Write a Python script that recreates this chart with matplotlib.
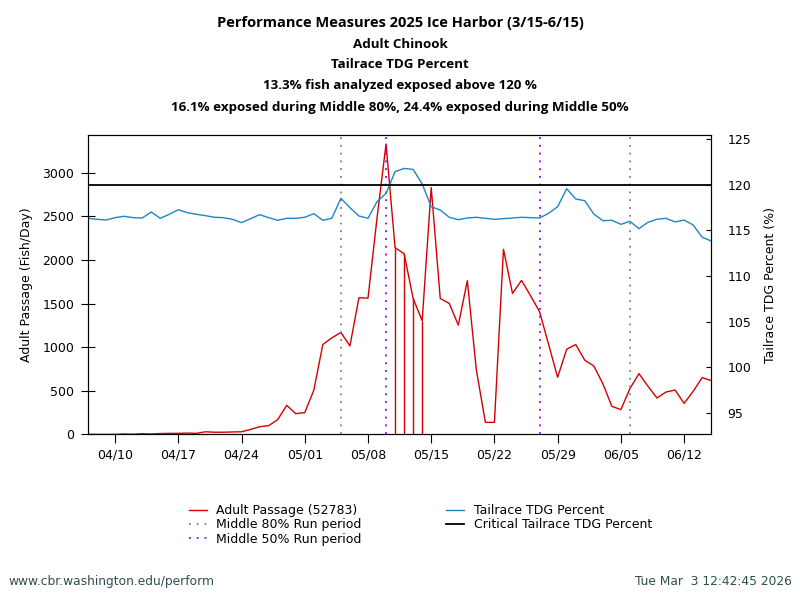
import numpy as np
import matplotlib
matplotlib.use('Agg')
import matplotlib.pyplot as plt
import matplotlib.dates as mdates

# daily values, 04/07 .. 06/15
start = np.datetime64('2025-04-07')
passage = [0, 0, 0, 0, 5, 2, 8, 5, 10, 12, 12, 15, 12, 30, 25, 25, 28, 30,
           57, 88, 100, 169, 333, 238, 250, 506, 1031, 1107, 1169, 1015,
           1567, 1563, 2480, 3330, 2141, 2072, 1559, 1303, 2831, 1559,
           1502, 1253, 1762, 736, 138, 138, 2123, 1617, 1766, 1590, 1406,
           1030, 655, 977, 1031, 851, 785, 582, 322, 284, 525, 697, 552,
           417, 486, 509, 356, 494, 651, 617]
tdg = [116.33, 116.22, 116.14, 116.40, 116.55, 116.40, 116.36, 117.02, 116.33,
       116.77, 117.27, 116.95, 116.77, 116.62, 116.44, 116.40, 116.22, 115.85,
       116.29, 116.73, 116.40, 116.11, 116.33, 116.33, 116.44, 116.84, 116.11,
       116.33, 118.53, 117.50, 116.58, 116.33, 118.15, 119.07, 121.45, 121.80,
       121.70, 120.10, 117.60, 117.24, 116.44, 116.18, 116.36, 116.44, 116.33,
       116.22, 116.29, 116.36, 116.44, 116.40, 116.36, 116.88, 117.60, 119.58,
       118.45, 118.26, 116.80, 116.07, 116.11, 115.67, 116.00, 115.19, 115.89,
       116.22, 116.33, 115.93, 116.14, 115.60, 114.25, 113.84]
drop_days = ['2025-05-11', '2025-05-12', '2025-05-13', '2025-05-14']
run80 = ['2025-05-05', '2025-06-06']
run50 = ['2025-05-10', '2025-05-27']
critical = 120
total = 52783

title_lines = ['Performance Measures 2025 Ice Harbor (3/15-6/15)',
               'Adult Chinook',
               'Tailrace TDG Percent',
               '13.3% fish analyzed exposed above 120 %',
               '16.1% exposed during Middle 80%, 24.4% exposed during Middle 50%']

dates = start + np.arange(len(passage))
dates = dates.astype('datetime64[D]').astype(object)
drop = np.array(drop_days, dtype='datetime64[D]')
drop_vals = [passage[int((d - start).astype(int))] for d in drop]

red = '#d40000'
blue = '#1f86c4'
purple = '#9a00e6'
dots = (0, (1, 3.3))

fig = plt.figure(figsize=(8, 6), dpi=100)
ax = fig.add_axes([0.110, 0.276, 0.779, 0.4985])
ax2 = ax.twinx()

l1, = ax.plot(dates, passage, color=red, lw=1)
ax.vlines(drop.astype(object), 0, drop_vals, color=red, lw=1)
for d in run80:
    ax.axvline(np.datetime64(d).astype(object), color='grey', ls=dots, lw=1.3)
for d in run50:
    ax.axvline(np.datetime64(d).astype(object), color=purple, ls=dots, lw=1.3)
l2, = ax2.plot(dates, tdg, color=blue, lw=1)
l3 = ax2.axhline(critical, color='black', lw=1.3)

ax.set_ylim(0, max(passage) * 1.03)
ax.set_yticks(range(0, 3001, 500))
ax2.set_ylim(92.61, 125.44)
ax2.set_yticks(range(95, 126, 5))
ax.set_xlim(np.datetime64('2025-04-07').astype(object), np.datetime64('2025-06-15').astype(object))
ax.set_xticks(np.arange(np.datetime64('2025-04-10'), np.datetime64('2025-06-15'), 7).astype(object))
ax.xaxis.set_major_formatter(mdates.DateFormatter('%m/%d'))
ax.tick_params(axis='x', labelsize=9, direction='out', length=6.5)
ax.tick_params(axis='y', labelsize=9, direction='inout', length=10, pad=5)
ax2.tick_params(axis='y', labelsize=9, direction='in', length=3.5, pad=11.5)
ax.set_ylabel('Adult Passage (Fish/Day)', fontsize=9, labelpad=7)
ax2.set_ylabel('Tailrace TDG Percent (%)', fontsize=9, labelpad=9.6)

for i, line in enumerate(title_lines):
    fig.text(0.5, 1 - (23 + 21 * i) / 600, line, ha='center', va='center',
             fontsize=10.55 if i == 0 else 9.6, fontweight='bold', family='Open Sans')

h80, = ax.plot([], [], color='grey', ls=dots, lw=1.3)
h50, = ax.plot([], [], color=purple, ls=dots, lw=1.3)
fig.legend([l1, h80, h50, l2, l3],
           ['Adult Passage (%d)' % total, 'Middle 80% Run period', 'Middle 50% Run period',
            'Tailrace TDG Percent', 'Critical Tailrace TDG Percent'],
           ncol=2, loc='upper left', bbox_to_anchor=(0.2358, 0.16), frameon=False,
           fontsize=9, handlelength=1.45, handletextpad=0.75, labelspacing=0.1,
           columnspacing=6.78, borderaxespad=0, borderpad=0)

fig.text(0.01, 0.025, 'www.cbr.washington.edu/perform', fontsize=8.8, color='#2f4f4f')
fig.text(0.99, 0.025, 'Tue Mar  3 12:42:45 2026', fontsize=8.8, color='#2f4f4f', ha='right')

fig.savefig('out.png', dpi=100)
